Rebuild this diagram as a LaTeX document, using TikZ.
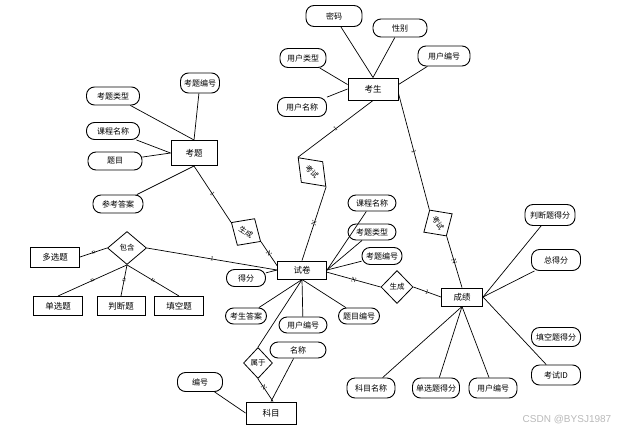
\documentclass[tikz,border=0pt]{standalone}
\usepackage{fontspec}
\newfontfamily\zhfont{Noto Sans CJK SC}
\newfontfamily\wmfont{Liberation Sans}
\usetikzlibrary{shapes.geometric}
\begin{document}
\begin{tikzpicture}[x=1pt, y=-1pt,
  ent/.style={draw, line width=1pt, inner sep=0pt, font=\zhfont\fontsize{8.5}{9}\selectfont},
  attr/.style={draw, line width=0.9pt, rounded corners=8pt, inner sep=0pt, font=\zhfont\fontsize{8}{9}\selectfont},
  rel/.style={draw, diamond, line width=0.8pt, inner sep=0pt, font=\zhfont\fontsize{7.5}{8}\selectfont},
  link/.style={line width=0.7pt},
  card/.style={font=\fontsize{6.5}{7}\selectfont, sloped, inner sep=0.3pt}
]
\useasboundingbox (0,0) rectangle (623,431);

% entities
\foreach \n/\x/\y/\w/\h/\t in {stu/373/89/50/22/考生, ques/194/153/46/25/考题,
  paper/302/270/49/18/试卷, score/462/297/41/18/成绩, subj/271/413/50/22/科目,
  multi/55/257/49/20/多选题, single/58/306/49/19/单选题,
  judge/121/306/48/19/判断题, blank/179/306/49/19/填空题}
  \node[ent, minimum width=\w pt, minimum height=\h pt] (\n) at (\x,\y) {\t};

% relations
\foreach \n/\x/\y/\w/\h/\r/\t in {contain/127/248/39/33/0/包含, gen2/397/287/32/33/0/生成,
  belong/258/363/29/31/0/属于, gen1/246/232/35/32/-33/生成,
  exam1/312/172/40/30/-46/考试, exam2/438/223/31/34/-57/考试}
  \node[rel, minimum width=\w pt, minimum height=\h pt, rotate=\r] (\n) at (\x,\y) {\t};

% attributes
\foreach \n/\x/\y/\w/\h/\t in {pwd/334/16/56/21/密码, sex/400/28/54/18/性别,
  utype/303/58/46/19/用户类型, uno/444/56/52/20/用户编号, uname/302/107/49/19/用户名称,
  qno/200/83/39/20/考题编号, qtype/113/96/53/18/考题类型, cname/113/131/53/17/课程名称,
  qtitle/115/161/54/18/题目, refans/118/204/50/18/参考答案,
  pcname/372/203/48/16/课程名称, pqtype/372/232/48/16/考题类型, pqno/382/256/40/17/考题编号,
  pscore/246/278/39/17/得分, pans/246/316/41/16/考生答案, puno/303/325/48/16/用户编号,
  pqid/359/316/41/16/题目编号, sname/298/350/56/16/名称, sno/200/382/45/19/编号,
  jscore/550/215/50/21/判断题得分, total/556/260/49/21/总得分, bscore/556/337/49/19/填空题得分,
  examid/556/375/49/20/考试ID, subname/371/388/48/20/科目名称,
  sscore/436/388/47/20/单选题得分, suno/493/388/48/20/用户编号}
  \node[attr, minimum width=\w pt, minimum height=\h pt] (\n) at (\x,\y) {\t};

\foreach \a/\b in {pwd/stu.north, sex/stu.north, utype/stu.170, uname/stu.west, uno/stu.10,
  qno/ques.north, qtype/ques.north, cname/ques.west, qtitle/ques.west, refans/ques.south,
  pcname/paper.east, pqtype/paper.east, pqno/paper.east, pscore/paper.west,
  pans/paper.south, puno/paper.south, pqid/paper.south, sname/subj.north, sno/subj.west,
  jscore/score.east, total/score.east, examid/score.east,
  subname/score.south, sscore/score.south, suno/score.south}
  \draw[link] (\a) -- (\b);

% relation links
\draw[link] (ques.south) -- node[card]{1} (gen1.west);
\draw[link] (gen1.east) -- node[card]{N} (paper.170);
\draw[link] (stu.south) -- node[card]{1} (exam1.west);
\draw[link] (exam1.east) -- node[card]{N} (paper.north);
\draw[link] (stu.-10) -- node[card]{1} (exam2.west);
\draw[link] (exam2.east) -- node[card]{N} (score.north);
\draw[link] (paper.-5) -- node[card]{N} (gen2.west);
\draw[link] (gen2.east) -- node[card]{1} (score.west);
\draw[link] (contain.east) -- node[card]{1} (paper.west);
\draw[link] (contain.west) -- node[card]{n} (multi.east);
\foreach \t in {single, judge, blank}
  \draw[link] (contain.south) -- node[card]{n} (\t.north);
\draw[link] (paper.south) -- (belong.north);
\draw[link] (belong.south) -- node[card, pos=0.4]{N} (subj.80);

\node[font=\wmfont\fontsize{10}{11}\selectfont, text=gray!55] (mark) at (567,420) {CSDN @BYSJ1987};
\end{tikzpicture}
\end{document}
